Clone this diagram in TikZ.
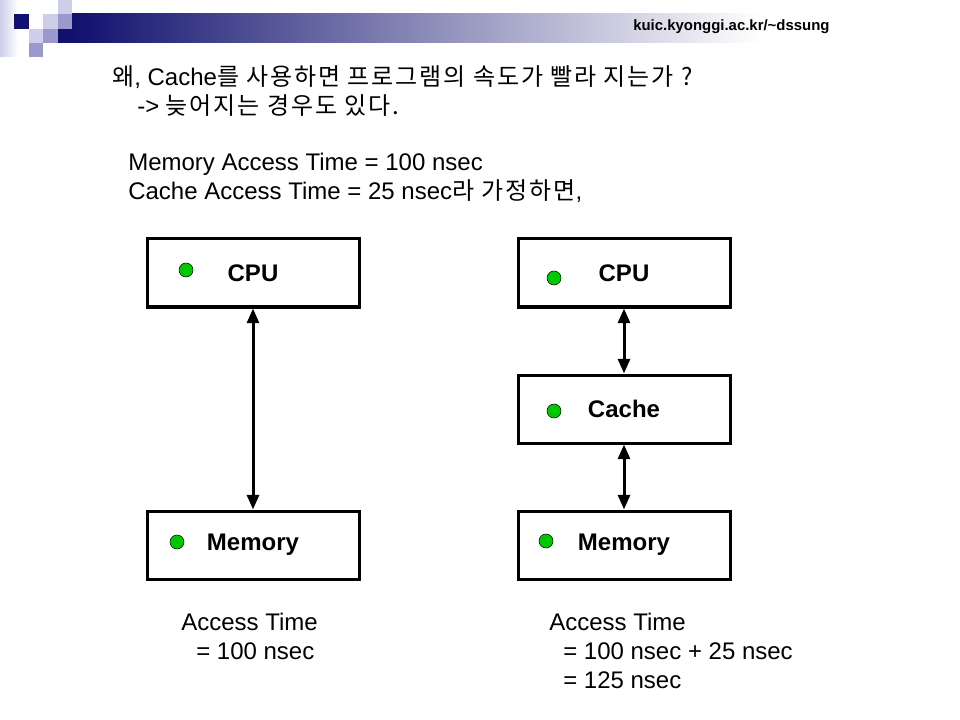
\documentclass[tikz,border=0pt]{standalone}
\usepackage{fontspec}
\setmainfont{Liberation Sans}
\newfontfamily\kr[LetterSpace=8]{Noto Sans CJK KR}
\usetikzlibrary{arrows.meta}
\definecolor{navy}{RGB}{16,16,110}
\definecolor{lilac}{RGB}{206,206,234}
\definecolor{mauve}{RGB}{153,153,204}
\definecolor{ledgreen}{RGB}{0,200,0}

\begin{document}
\begin{tikzpicture}[x=0.75pt,y=-0.75pt]
   \tikzstyle{unit}=[draw, line width=2.25pt, minimum width=159pt, minimum height=51pt, inner sep=0pt, font=\fontsize{18}{22}\selectfont\bfseries]
   \tikzstyle{led}=[circle, draw, thin, fill=ledgreen, minimum size=10.5pt, inner sep=0pt]
   \tikzstyle{bus}=[line width=2.25pt, {Triangle[width=9pt,length=11pt]}-{Triangle[width=9pt,length=11pt]}]
   \tikzstyle{txt}=[anchor=base west, inner sep=0pt, font=\fontsize{18}{22}\selectfont]

\useasboundingbox (0,0) rectangle (960,720);

% title bar
\shade[left color=lilac, right color=white] (0,0) rectangle (18,57);
\shade[left color=navy, right color=white] (72,14) rectangle (760,43);
\fill[navy] (58,29) rectangle (72,43);
\fill[navy] (14,14) rectangle (29,29);
\fill[lilac] (43,14) rectangle (58,29);
\fill[lilac] (58,0) rectangle (72,14);
\fill[mauve] (58,14) rectangle (72,29);
\fill[lilac] (29,29) rectangle (43,43);
\fill[mauve] (43,29) rectangle (58,43);
\fill[mauve] (29,43) rectangle (43,57);
\node[font=\fontsize{11.2}{13}\selectfont\bfseries, anchor=west, inner sep=0pt] (site) at (633,27) {kuic.kyonggi.ac.kr/\textasciitilde dssung};

% question
\node[txt] (q1) at (112,86) {{\kr 왜}, Cache{\kr 를 사용하면 프로그램의 속도가 빨라 지는가 ?}};
\node[txt] (q2) at (137,115) {-> {\kr 늦어지는 경우도 있다.}};
\node[txt] (m1) at (128,171) {Memory Access Time = 100 nsec};
\node[txt] (m2) at (128,200) {Cache Access Time = 25 nsec{\kr 라 가정하면},};

% without cache
\node[unit] (cpuL) at (253,273) {CPU};
\node[unit] (memL) at (253,545) {Memory};
\draw[bus] (cpuL) -- (memL);
\node[led] (ledCL) at (186,270) {};
\node[led] (ledML) at (177,542) {};

% with cache
\node[unit] (cpuR) at (624,273) {CPU};
\node[unit] (cache) at (624,409) {Cache};
\node[unit] (memR) at (624,545) {Memory};
\draw[bus] (cpuR) -- (cache);
\draw[bus] (cache) -- (memR);
\node[led] (ledCR) at (554,278) {};
\node[led] (ledC) at (554,411) {};
\node[led] (ledMR) at (546,541) {};

% access times
\node[txt] (tL1) at (181,630) {Access Time};
\node[txt] (tL2) at (196,659) {= 100 nsec};
\node[txt] (tR1) at (549,630) {Access Time};
\node[txt] (tR2) at (563,659) {= 100 nsec + 25 nsec};
\node[txt] (tR3) at (563,688) {= 125 nsec};

\end{tikzpicture}
\end{document}
